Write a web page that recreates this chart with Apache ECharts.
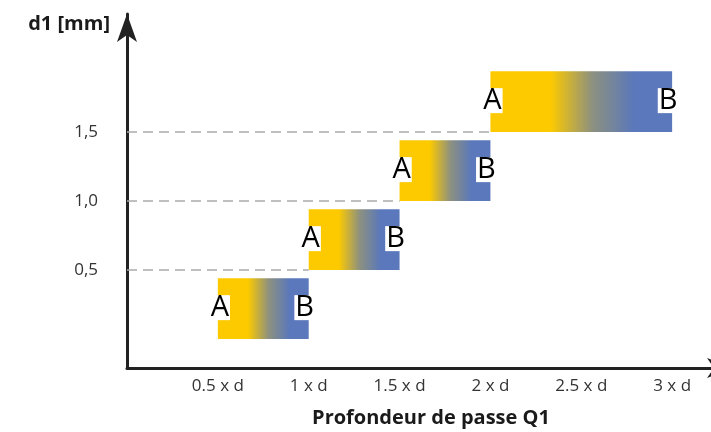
<!DOCTYPE html>
<html>
<head>
<meta charset="utf-8">
<script src="https://cdn.jsdelivr.net/npm/echarts@6/dist/echarts.min.js"></script>
<style>html,body{margin:0;padding:0;background:#fff}#c{width:711px;height:432px}</style>
</head>
<body>
<div id="c"></div>
<script>
const xTickValues = [0.5, 1, 1.5, 2, 2.5, 3];
const xTickLabels = ['0.5 x d', '1 x d', '1.5 x d', '2 x d', '2.5 x d', '3 x d'];
const yTickValues = [0.5, 1.0, 1.5];
const yTickLabels = ['0,5', '1,0', '1,5'];
const barStart = [0.5, 1, 1.5, 2];
const barEnd = [1, 1.5, 2, 3];
const barLow = [0, 0.5, 1, 1.5];
const barHigh = [0.44, 0.94, 1.44, 1.94];
const guideEnd = [1, 1.5, 2];

const chart = echarts.init(document.getElementById('c'));
const barData = barStart.map((s, i) => [s, barEnd[i], barLow[i], barHigh[i]]);
const guideLines = yTickValues.map((v, i) => [
  { coord: [0, v], label: { formatter: yTickLabels[i] } },
  { coord: [guideEnd[i], v] }
]);

function renderItem(params, api) {
  const p0 = api.coord([api.value(0), api.value(3)]);
  const p1 = api.coord([api.value(1), api.value(2)]);
  const w = p1[0] - p0[0], h = p1[1] - p0[1];
  const midY = p0[1] + h / 2 - 1;
  const grad = new echarts.graphic.LinearGradient(0, 0, 1, 0, [
    { offset: 0, color: '#FDCA00' },
    { offset: 0.33, color: '#FDCA00' },
    { offset: 0.56, color: '#8D917F' },
    { offset: 0.79, color: '#5A78BB' },
    { offset: 1, color: '#5A78BB' }
  ]);
  const txt = (x, t) => ({
    type: 'text',
    style: {
      x: x, y: midY, text: t, fill: '#000',
      font: '29px "Open Sans"', align: 'center', verticalAlign: 'middle',
      backgroundColor: '#fff', padding: [0, 1], lineHeight: 25
    },
    z2: 10
  });
  return {
    type: 'group',
    children: [
      { type: 'rect', shape: { x: p0[0], y: p0[1], width: w, height: h }, style: { fill: grad } },
      txt(p0[0] + 2, 'A'),
      txt(p1[0] - 4, 'B')
    ]
  };
}

chart.setOption({
  animation: false,
  grid: { left: 127, right: -24, top: 14, bottom: 64, containLabel: false, outerBoundsMode: 'none' },
  xAxis: {
    type: 'value', min: 0, max: 3.346,
    name: 'Profondeur de passe Q1', nameLocation: 'middle', nameGap: 40,
    nameTextStyle: { fontFamily: 'Open Sans', fontWeight: 'bold', fontSize: 20, color: '#1a1a1a' },
    axisLine: { show: true, onZero: false, symbol: ['none', 'arrow'], symbolSize: [15, 28], lineStyle: { color: '#222', width: 3 } },
    axisTick: { show: false },
    splitLine: { show: false },
    axisLabel: {
      customValues: xTickValues,
      formatter: v => { const i = xTickValues.findIndex(t => Math.abs(t - v) < 1e-6); return i >= 0 ? xTickLabels[i] : ''; },
      fontFamily: 'Open Sans', fontSize: 17, color: '#333', margin: 10
    }
  },
  yAxis: {
    type: 'value', min: -0.21, max: 2.355,
    name: 'd1 [mm]', nameLocation: 'end', nameGap: -10,
    nameTextStyle: { fontFamily: 'Open Sans', fontWeight: 'bold', fontSize: 20, color: '#1a1a1a', align: 'right', verticalAlign: 'middle', padding: [0, 17, 0, 0] },
    axisLine: { show: true, onZero: false, symbol: ['none', 'arrow'], symbolSize: [15, 28], lineStyle: { color: '#222', width: 3 } },
    axisTick: { show: false },
    splitLine: { show: false },
    axisLabel: { show: false }
  },
  series: [{
    type: 'custom',
    renderItem: renderItem,
    encode: { x: [0, 1], y: [2, 3] },
    data: barData,
    markLine: {
      silent: true, symbol: 'none',
      lineStyle: { color: '#aaa', type: [10, 6], width: 1.5 },
      label: { position: 'start', distance: 29, fontFamily: 'Open Sans', fontSize: 17, color: '#333' },
      data: guideLines
    }
  }]
});
</script>
</body>
</html>
